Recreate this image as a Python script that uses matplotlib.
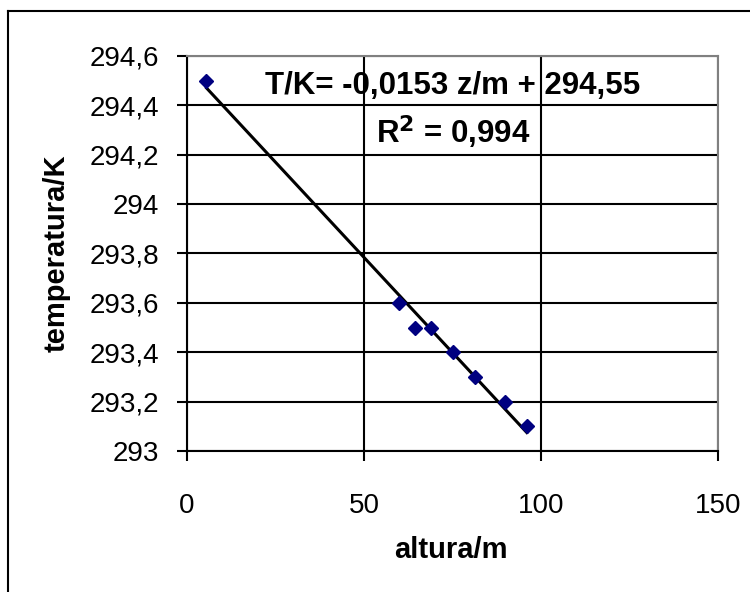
import numpy as np
import matplotlib
matplotlib.use('Agg')
import matplotlib.pyplot as plt
from matplotlib.lines import Line2D

plt.rcParams['font.family'] = ['Liberation Sans', 'DejaVu Sans']

# dados
altura = np.array([5.5, 60, 64.3, 69, 75, 81.3, 89.8, 96])
temperatura = np.array([294.5, 293.6, 293.5, 293.5, 293.4, 293.3, 293.2, 293.1])

x_ticks = [0, 50, 100, 150]
y_ticks = [293, 293.2, 293.4, 293.6, 293.8, 294, 294.2, 294.4, 294.6]
y_tick_labels = ['293', '293,2', '293,4', '293,6', '293,8', '294', '294,2', '294,4', '294,6']

# ajuste linear
coef = np.polyfit(altura, temperatura, 1)
x_fit = np.array([altura.min(), altura.max()])
y_fit = np.polyval(coef, x_fit)

fig = plt.figure(figsize=(7.5, 5.92), dpi=100)
ax = fig.add_axes([187 / 750, 1 - 451 / 592, (718 - 187) / 750, (451 - 56) / 592])

ax.plot(x_fit, y_fit, color='black', lw=2.2, zorder=3)
ax.plot(altura, temperatura, 'D', color='#000080', ms=7, zorder=4)

ax.set_xlim(0, 150)
ax.set_ylim(293, 294.6)
ax.set_xticks(x_ticks)
ax.set_yticks(y_ticks)
ax.set_yticklabels(y_tick_labels)
ax.grid(True, color='black', lw=1.5)
ax.set_axisbelow(True)

ax.tick_params(axis='x', direction='out', length=7, width=1.5, labelsize=20, pad=23)
ax.tick_params(axis='y', direction='out', length=7, width=1.5, labelsize=20, pad=13)

for side in ['left', 'bottom']:
    ax.spines[side].set_color('black')
    ax.spines[side].set_linewidth(1.5)
for side in ['top', 'right']:
    ax.spines[side].set_color('#808080')
    ax.spines[side].set_linewidth(1.5)

fig.text(451 / 750, 1 - 550 / 592, 'altura/m', fontsize=21, fontweight='bold',
         ha='center', va='center')
fig.text(57 / 750, 1 - 253 / 592, 'temperatura/K', fontsize=21, fontweight='bold',
         ha='center', va='center', rotation=90)

ax.text(75, 294.48, 'T/K= -0,0153 z/m + 294,55', fontsize=22.5, fontweight='bold',
        ha='center', va='center', zorder=5)
ax.text(75.3, 294.29, r'R$^{\mathbf{2}}$ = 0,994', fontsize=22.5, fontweight='bold',
        ha='center', va='center', zorder=5)

# moldura externa
fig.add_artist(Line2D([8 / 750, 8 / 750], [0, 1 - 11 / 592], color='black', lw=1.5))
fig.add_artist(Line2D([8 / 750, 1], [1 - 11 / 592, 1 - 11 / 592], color='black', lw=1.5))

fig.savefig('out.png', dpi=100)
